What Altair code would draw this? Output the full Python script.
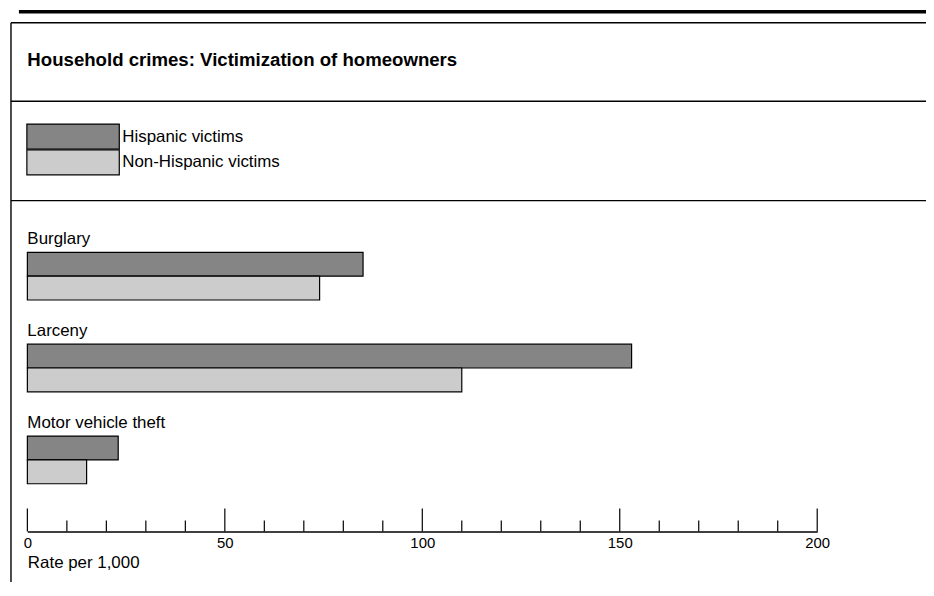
import altair as alt
import pandas as pd

# ---- data ----
categories = ["Burglary", "Larceny", "Motor vehicle theft"]
series_names = ["Hispanic victims", "Non-Hispanic victims"]
hispanic_rates = [85, 153, 23]
non_hispanic_rates = [74, 110, 15]
major_ticks = [0, 50, 100, 150, 200]
minor_ticks = [10, 20, 30, 40, 60, 70, 80, 90, 110, 120, 130, 140, 160, 170, 180, 190]

rows = []
for c, h, n in zip(categories, hispanic_rates, non_hispanic_rates):
    rows.append({"crime": c, "group": series_names[0], "rate": h})
    rows.append({"crime": c, "group": series_names[1], "rate": n})
df = pd.DataFrame(rows)
labels_df = pd.DataFrame({"crime": categories})
major_df = pd.DataFrame({"tick": major_ticks})
minor_df = pd.DataFrame({"tick": minor_ticks})

FONT = "Liberation Sans"
W, H = 795, 525
DARK, LIGHT = "#858585", "#cccccc"

x_scale = alt.Scale(domain=[0, 200], nice=False, zero=True)
y_scale = alt.Scale(domain=categories, range=[244, 477], paddingInner=0.481, paddingOuter=0)

x_axis = alt.Axis(
    values=major_ticks, ticks=False, tickSize=0, grid=False,
    domain=True, domainColor="black", domainWidth=1.5,
    labelFont=FONT, labelFontSize=15, labelColor="black", labelPadding=4, labelFlush=False,
    title="Rate per 1,000", titleFont=FONT, titleFontSize=17, titleFontWeight="normal",
    titleColor="black", titleAnchor="start", titleAlign="left", titleX=0, titleY=36,
    titleBaseline="alphabetic",
)

legend = alt.Legend(
    title=None, orient="none", legendX=-0.5, legendY=117, padding=0,
    symbolType="M-4.82,-1.3H4.82V1.3H-4.82Z", symbolSize=372.5, symbolOffset=36,
    symbolStrokeColor="black", symbolStrokeWidth=1.2, symbolOpacity=1,
    labelFont=FONT, labelFontSize=17, labelColor="black", labelOffset=39, rowPadding=-5.5,
)

bars = alt.Chart(df).mark_bar(stroke="black", strokeWidth=1.2).encode(
    x=alt.X("rate:Q", scale=x_scale, axis=x_axis),
    y=alt.Y("crime:N", scale=y_scale, axis=None, sort=categories),
    yOffset=alt.YOffset("group:N", sort=series_names,
                        scale=alt.Scale(domain=series_names, paddingInner=0, paddingOuter=0)),
    color=alt.Color("group:N", scale=alt.Scale(domain=series_names, range=[DARK, LIGHT]), legend=legend),
)

labels = alt.Chart(labels_df).mark_text(
    align="left", baseline="alphabetic", dy=-8, font=FONT, fontSize=17, color="black"
).encode(
    x=alt.XDatum(0),
    y=alt.Y("crime:N", scale=y_scale, axis=None, bandPosition=0, sort=categories),
    text="crime:N",
)

major = alt.Chart(major_df).mark_rule(color="black", strokeWidth=1.2).encode(
    x=alt.X("tick:Q"), y=alt.value(502), y2=alt.value(525)
)
minor = alt.Chart(minor_df).mark_rule(color="black", strokeWidth=1.2).encode(
    x=alt.X("tick:Q"), y=alt.value(514), y2=alt.value(525)
)

one = alt.Data(values=[{"k": 1}])


def hline(y, w, x1=-16.5, x2=910):
    return alt.Chart(one).mark_rule(color="black", strokeWidth=w).encode(
        x=alt.value(x1), x2=alt.value(x2), y=alt.value(y)
    )


frame = [
    hline(1.8, 3.5, x1=-8.5),
    hline(13, 1.4),
    hline(92, 1.4),
    hline(192, 1.4),
    alt.Chart(one).mark_rule(color="black", strokeWidth=1.4).encode(
        x=alt.value(-16.5), y=alt.value(13), y2=alt.value(600)
    ),
]

chart = alt.layer(*frame, bars, labels, major, minor).properties(
    width=W,
    height=H,
    title=alt.TitleParams(
        "Household crimes: Victimization of homeowners",
        anchor="start", frame="group", font=FONT, fontSize=18.75, fontWeight="bold",
        color="black", baseline="alphabetic", offset=0, dy=75,
    ),
    padding={"left": 19.5, "top": 0, "right": 109.5, "bottom": 49},
    autosize=alt.AutoSizeParams(type="none"),
).configure_view(stroke=None).configure_axis(grid=False)

chart.save("out.html", embed_options={"renderer": "svg", "actions": False})
